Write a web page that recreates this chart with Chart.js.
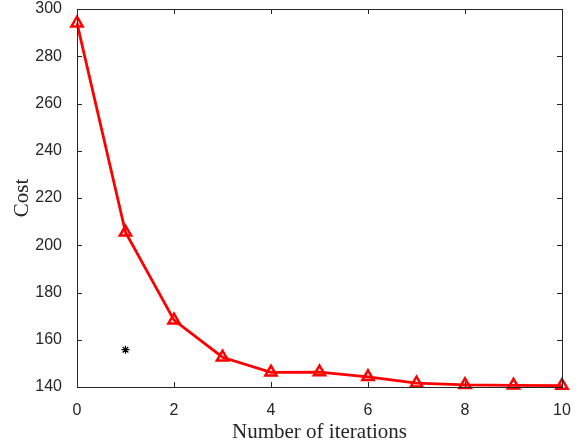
<!DOCTYPE html>
<html><head><meta charset="utf-8">
<script src="https://cdn.jsdelivr.net/npm/chart.js@4.4.1/dist/chart.umd.min.js"></script>
<style>html,body{margin:0;padding:0;background:#fff;}#wrap{width:584px;height:445px;}</style>
</head><body><div id="wrap"><canvas id="c" width="584" height="445"></canvas></div>
<script>
const iterations = [0,1,2,3,4,5,6,7,8,9,10];
const costValues = [294,205.5,168.3,152.6,146.2,146.3,144.3,141.6,140.9,140.7,140.6];
const extraPoint = [{x:1, y:155.8}];
const xTicks = [0,2,4,6,8,10];
const yTicks = [140,160,180,200,220,240,260,280,300];
const xLabel = 'Number of iterations';
const yLabel = 'Cost';

const axisColor = '#262626';
const boxPlugin = {
  id:'box',
  afterDraw(chart){
    const {ctx, chartArea:a, scales:{x,y}} = chart;
    ctx.save();
    ctx.strokeStyle = axisColor; ctx.lineWidth = 1;
    ctx.strokeRect(Math.round(a.left)+0.5, Math.round(a.top)+0.5, Math.round(a.right-a.left), Math.round(a.bottom-a.top));
    ctx.beginPath();
    const L=5;
    xTicks.forEach(v=>{const p=Math.round(x.getPixelForValue(v))+0.5;
      ctx.moveTo(p,a.bottom); ctx.lineTo(p,a.bottom-L);
      ctx.moveTo(p,a.top); ctx.lineTo(p,a.top+L);});
    yTicks.forEach(v=>{const p=Math.round(y.getPixelForValue(v))+0.5;
      ctx.moveTo(a.left,p); ctx.lineTo(a.left+L,p);
      ctx.moveTo(a.right,p); ctx.lineTo(a.right-L,p);});
    ctx.stroke();
    ctx.restore();
  }
};

new Chart(document.getElementById('c'), {
  type:'line',
  data:{
    datasets:[
      {data: iterations.map((v,i)=>({x:v,y:costValues[i]})), borderColor:'#ff0000', borderWidth:2.8,
       pointStyle:'triangle', pointRadius:6.5, pointBorderWidth:2.5, pointBorderColor:'#ff0000',
       pointBackgroundColor:'rgba(0,0,0,0)', tension:0, order:1, clip:false},
      {data: extraPoint, showLine:false, pointStyle:'star', pointRadius:4, pointBorderWidth:1.2,
       pointBorderColor:'#000', pointBackgroundColor:'#000', order:0}
    ]
  },
  options:{
    responsive:false, animation:false, devicePixelRatio:1,
    layout:{padding:{left:0,right:22,top:8,bottom:0}},
    plugins:{legend:{display:false}, tooltip:{enabled:false}},
    scales:{
      x:{type:'linear', min:0, max:10,
        afterBuildTicks(s){ s.ticks = xTicks.map(v=>({value:v})); },
        afterFit(s){ s.height = 58; s.paddingLeft = 0; s.paddingRight = 0; },
        grid:{display:false}, border:{display:false},
        ticks:{color:axisColor, font:{family:'Liberation Sans, Arial, sans-serif', size:16}, padding:6, maxRotation:0},
        title:{display:true, text:xLabel, color:axisColor, font:{family:'Liberation Serif, DejaVu Serif, serif', size:21}, padding:{top:2,bottom:0}}
      },
      y:{type:'linear', min:140, max:300,
        afterBuildTicks(s){ s.ticks = yTicks.map(v=>({value:v})); },
        afterFit(s){ s.width = 77; s.paddingTop = 0; s.paddingBottom = 0; },
        grid:{display:false}, border:{display:false},
        ticks:{color:axisColor, font:{family:'Liberation Sans, Arial, sans-serif', size:16}, padding:7},
        title:{display:true, text:yLabel, color:axisColor, font:{family:'Liberation Serif, DejaVu Serif, serif', size:21}, padding:{top:10,bottom:0}}
      }
    }
  },
  plugins:[boxPlugin]
});
</script></body></html>
